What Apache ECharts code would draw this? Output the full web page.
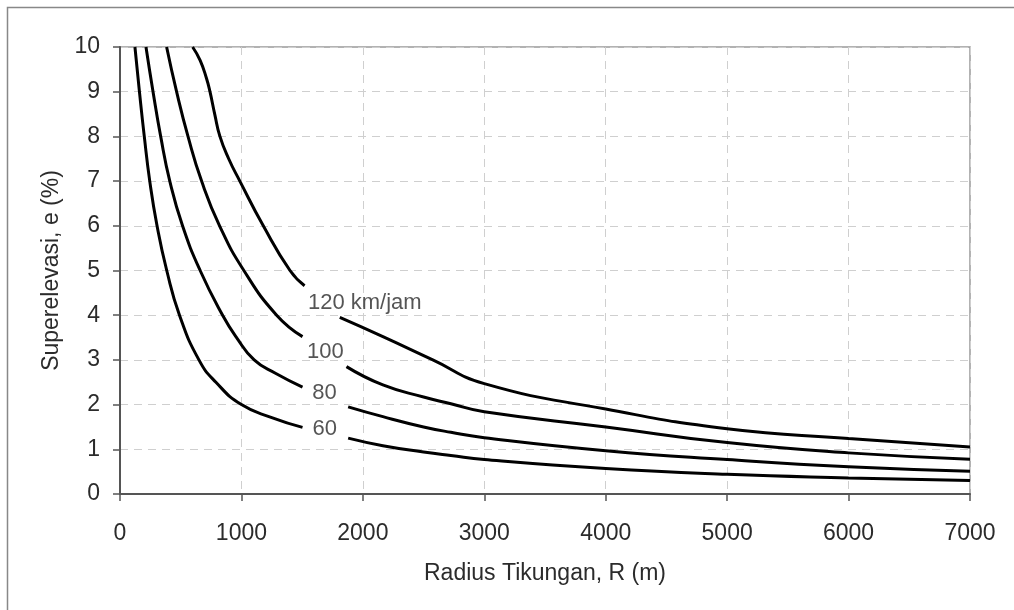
<!DOCTYPE html>
<html>
<head>
<meta charset="utf-8">
<script src="https://cdn.jsdelivr.net/npm/echarts@6/dist/echarts.min.js"></script>
<style>
  html, body { margin: 0; padding: 0; background: #fff; }
  #chart { width: 1014px; height: 610px; }
</style>
</head>
<body>
<div id="chart"></div>
<script>
// radius (m) and superelevation (%); null = gap for the label
const r60 = [123, 160, 200, 245, 305, 385, 490, 650, 790, 1000, 1250, 1503, null, 1879, 2165, 2500, 2725, 3000, 4000, 5000, 6000, 7000]
const e60 = [10, 9, 8, 7, 6, 5, 4, 3, 2.5, 2.0, 1.71, 1.49, null, 1.25, 1.08, 0.94, 0.86, 0.77, 0.57, 0.44, 0.36, 0.30]

const r80 = [214, 272, 335, 410, 515, 660, 845, 960, 1105, 1280, 1503, null, 1879, 2165, 2500, 2725, 3000, 4000, 5000, 6000, 7000]
const e80 = [10, 9, 8, 7, 6, 5, 4, 3.5, 3, 2.7, 2.39, null, 1.95, 1.73, 1.5, 1.38, 1.26, 0.97, 0.77, 0.61, 0.51]

const r100 = [384, 466, 560, 672, 820, 1020, 1290, 1503, null, 1865, 2165, 2500, 2725, 3000, 4000, 5000, 6000, 7000]
const e100 = [10, 9, 8, 7, 6, 5, 4, 3.52, null, 2.85, 2.44, 2.17, 2.02, 1.84, 1.5, 1.15, 0.92, 0.78]

const r120 = [598, 660, 712, 741, 780, 823, 895, 987, 1180, 1400, 1520, null, 1810, 2165, 2576, 3000, 4000, 5000, 6000, 7000]
const e120 = [10, 9.7, 9.3, 9, 8.5, 8, 7.5, 7, 6, 5, 4.66, null, 3.95, 3.52, 3.0, 2.47, 1.90, 1.46, 1.24, 1.05]

const curveNames = ['60', '80', '100', '120']
const labelText = ['60', '80', '100', '120 km/jam']
const labelR = [1687, 1685, 1691, 2016]
const labelE = [1.45, 2.25, 3.17, 4.28]

const xTicks = { min: 0, max: 7000, interval: 1000 }
const yTicks = { min: 0, max: 10, interval: 1 }

const toPairs = (rs, es) => rs.map((r, i) => (r === null ? [NaN, '-'] : [r, es[i]]))

const curves = [[r60, e60], [r80, e80], [r100, e100], [r120, e120]]

const textColor = '#2b2b2b'
const fontFamily = 'Liberation Sans, Arial, sans-serif'

const chart = echarts.init(document.getElementById('chart'))

const lineSeries = curves.map((c, i) => ({
  name: curveNames[i],
  type: 'line',
  data: toPairs(c[0], c[1]),
  smooth: 0.5,
  showSymbol: false,
  connectNulls: false,
  lineStyle: { color: '#000', width: 3 },
  z: 3
}))

const labelSeries = {
  type: 'scatter',
  symbolSize: 0,
  silent: true,
  data: labelR.map((r, i) => ({ value: [r, labelE[i]], name: labelText[i] })),
  label: {
    show: true,
    position: 'inside',
    formatter: p => p.name,
    color: textColor,
    fontSize: 22,
    fontFamily
  },
  z: 4
}

chart.setOption({
  animation: false,
  backgroundColor: '#fff',
  grid: {
    left: 120,
    right: 44,
    top: 47,
    bottom: 116,
    show: true,
    borderColor: '#999',
    borderWidth: 1.5
  },
  graphic: [{
    type: 'rect',
    shape: { x: 7.5, y: 7.5, width: 1012, height: 610 },
    style: { fill: null, stroke: '#888', lineWidth: 1.5 },
    silent: true
  }],
  xAxis: {
    type: 'value',
    ...xTicks,
    name: 'Radius Tikungan, R (m)',
    nameLocation: 'middle',
    nameGap: 68,
    nameTextStyle: { color: textColor, fontSize: 23, fontFamily },
    axisLine: { lineStyle: { color: '#555', width: 2 } },
    axisTick: { show: true, inside: false, length: 7, lineStyle: { color: '#555', width: 1.5 } },
    axisLabel: { color: textColor, fontSize: 23, fontFamily, margin: 28, formatter: v => String(v) },
    splitLine: { show: true, lineStyle: { color: '#cfcfcf', type: [8, 6], width: 1 } }
  },
  yAxis: {
    type: 'value',
    ...yTicks,
    name: 'Superelevasi, e (%)',
    nameLocation: 'middle',
    nameGap: 57,
    nameTextStyle: { color: textColor, fontSize: 23, fontFamily },
    axisLine: { show: true, lineStyle: { color: '#555', width: 2 } },
    axisTick: { show: true, inside: false, length: 7, lineStyle: { color: '#555', width: 1.5 } },
    axisLabel: { color: textColor, fontSize: 23, fontFamily, margin: 20 },
    splitLine: { show: true, lineStyle: { color: '#cfcfcf', type: [8, 6], width: 1 } }
  },
  series: [...lineSeries, labelSeries]
})
</script>
</body>
</html>
